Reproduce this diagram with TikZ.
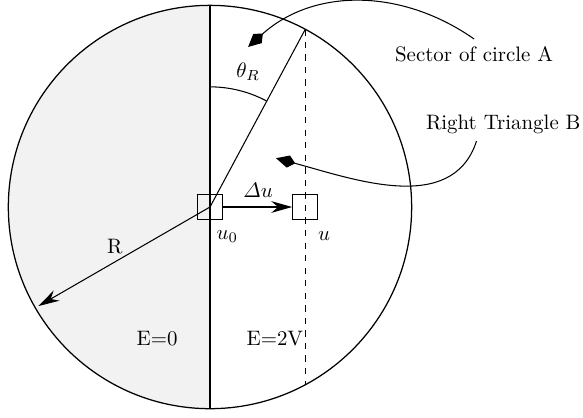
\documentclass[tikz,border=0pt]{standalone}
\usepackage{amsmath}
\usepackage{tikz}
\usetikzlibrary{arrows.meta, positioning}
\colorlet{leftside}{black!5}

\begin{document}
\begin{tikzpicture}[>={Stealth[length=10pt, width=5.6pt]},
    cell/.style={draw, minimum size=0.42cm, inner sep=0pt, line width=0.5pt},
    pointer/.style={-{Kite[length=9.5pt, width=6pt, inset=3.4pt]}, line width=0.5pt}]
    \useasboundingbox (-3.53, -3.54) rectangle (6.27, 3.48);
    \coordinate (O) at (0, 0);
    \coordinate (top) at (61.8:3.39);
    \coordinate (bot) at (-61.8:3.39);

    \fill[leftside] (0, 3.39) arc (90:270:3.39) -- cycle;
    \draw[line width=0.6pt] (O) circle (3.39);
    \draw[line width=1.2pt] (0, 3.39) -- (0, -3.39);
    \draw[dashed, line width=0.5pt] (top) -- (bot);
    \draw[line width=0.5pt] (O) -- (top);
    \draw[line width=0.5pt] (0, 2.02) arc (90:62:2.02);
    \node at (0.64, 2.27) {$\theta_R$};

    \node[cell] (u0box) at (O) {};
    \node[cell] (ubox) at (1.60, 0) {};
    \draw[->, line width=0.5pt] (u0box.east) -- (ubox.west);
    \node at (0.81, 0.28) {$\varDelta u$};
    \node at (0.29, -0.49) {$u_0$};
    \node at (1.92, -0.49) {$u$};

    \draw[->, line width=0.5pt] (O) -- (210:3.33);
    \node at (-1.60, -0.67) {R};
    \node at (-0.89, -2.22) {E=0};
    \node at (1.09, -2.22) {E=2V};

    \node (sectorA) at (4.44, 2.57) {Sector of circle A};
    \node (triangleB) at (4.93, 1.39) {Right Triangle B};
    \coordinate (tipA) at (0.64, 2.69);
    \coordinate (tipB) at (1.11, 0.82);
    \draw[pointer] (sectorA.north) to[out=145, in=42] (tipA);
    \draw[pointer] ([xshift=-0.45cm]triangleB.south) to[out=-108, in=-15] (tipB);
\end{tikzpicture}
\end{document}
